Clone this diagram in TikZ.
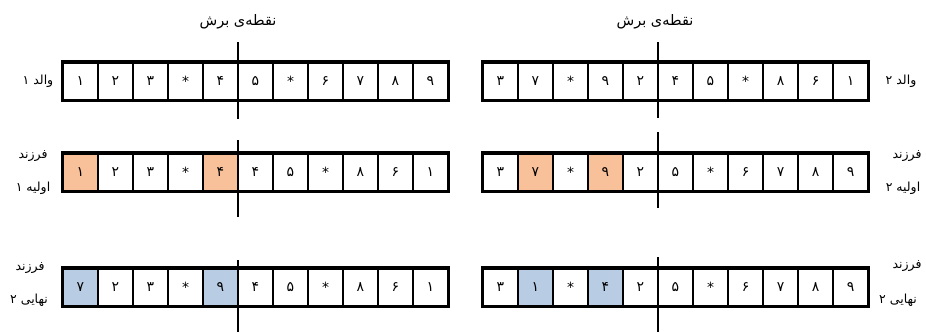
\documentclass[tikz,border=0pt]{standalone}
\usepackage{fontspec}
\usetikzlibrary{positioning}
\newfontfamily\farsi[Script=Arabic]{DejaVu Sans}
\TeXXeTstate=1
\definecolor{orng}{HTML}{F8C19A}
\definecolor{blu}{HTML}{B8CCE4}
\tikzset{
	cell/.style={draw, line width=1.2pt, minimum width=35pt, minimum height=37pt, inner sep=0pt, font=\farsi\fontsize{14}{16}\selectfont},
	frame/.style={line width=3.2pt},
	cutline/.style={line width=2.6pt},
	lbl/.style={font=\farsi\fontsize{12.5}{15}\selectfont, inner sep=0pt},
	ttl/.style={font=\farsi\fontsize{14.5}{17}\selectfont, inner sep=0pt}
}

\begin{document}
\begin{tikzpicture}[x=1pt, y=-1pt]
	\useasboundingbox (0,0) rectangle (926,332);
		\foreach \d/\f [count=\i] in {۱/white,۲/white,۳/white,*/white,۴/white,۵/white,*/white,۶/white,۷/white,۸/white,۹/white}
			\node[cell, fill=\f](p1c\i) at (45.5+35*\i,81) {\d};
		\foreach \d/\f [count=\i] in {۳/white,۷/white,*/white,۹/white,۲/white,۴/white,۵/white,*/white,۸/white,۶/white,۱/white}
			\node[cell, fill=\f](p2c\i) at (465.5+35*\i,81) {\d};
		\foreach \d/\f [count=\i] in {۱/orng,۲/white,۳/white,*/white,۴/orng,۴/white,۵/white,*/white,۸/white,۶/white,۱/white}
			\node[cell, fill=\f](k1c\i) at (45.5+35*\i,172) {\d};
		\foreach \d/\f [count=\i] in {۳/white,۷/orng,*/white,۹/orng,۲/white,۵/white,*/white,۶/white,۷/white,۸/white,۹/white}
			\node[cell, fill=\f](k2c\i) at (465.5+35*\i,172) {\d};
		\foreach \d/\f [count=\i] in {۷/blu,۲/white,۳/white,*/white,۹/blu,۴/white,۵/white,*/white,۸/white,۶/white,۱/white}
			\node[cell, fill=\f](n1c\i) at (45.5+35*\i,287) {\d};
		\foreach \d/\f [count=\i] in {۳/white,۱/blu,*/white,۴/blu,۲/white,۵/white,*/white,۶/white,۷/white,۸/white,۹/white}
			\node[cell, fill=\f](n2c\i) at (465.5+35*\i,287) {\d};
		\foreach \r in {p1,p2,k1,k2,n1,n2}
			\draw[frame] (\r c1.north west) rectangle (\r c11.south east);
		\coordinate (cut1a) at (238,42);
		\coordinate (cut1b) at (238,119);
		\coordinate (cut2a) at (658,42);
		\coordinate (cut2b) at (658,118);
		\coordinate (cut3a) at (238,140);
		\coordinate (cut3b) at (238,217);
		\coordinate (cut4a) at (658,132);
		\coordinate (cut4b) at (658,208);
		\coordinate (cut5a) at (238,260);
		\coordinate (cut5b) at (238,332);
		\coordinate (cut6a) at (658,257);
		\coordinate (cut6b) at (658,332);
		\foreach \c in {1,...,6}
			\draw[cutline] (cut\c a) -- (cut\c b);
		\node[ttl](cut1lbl) at (238,22) {\beginR نقطه‌ی برش\endR};
		\node[ttl](cut2lbl) at (655,22) {\beginR نقطه‌ی برش\endR};
		\node[lbl](p1lbl) at (38,81) {\beginR والد ۱\endR};
		\node[lbl](p2lbl) at (901,81) {\beginR والد ۲\endR};
		\node[lbl](k1lbla) at (33,156) {\beginR فرزند\endR};
		\node[lbl](k1lblb) at (33,188) {\beginR اولیه ۱\endR};
		\node[lbl](k2lbla) at (907,156) {\beginR فرزند\endR};
		\node[lbl](k2lblb) at (903,188) {\beginR اولیه ۲\endR};
		\node[lbl](n1lbla) at (30,268) {\beginR فرزند\endR};
		\node[lbl](n1lblb) at (29,300) {\beginR نهایی ۲\endR};
		\node[lbl](n2lbla) at (907,266) {\beginR فرزند\endR};
		\node[lbl](n2lblb) at (898,300) {\beginR نهایی ۲\endR};
\end{tikzpicture}
\end{document}
